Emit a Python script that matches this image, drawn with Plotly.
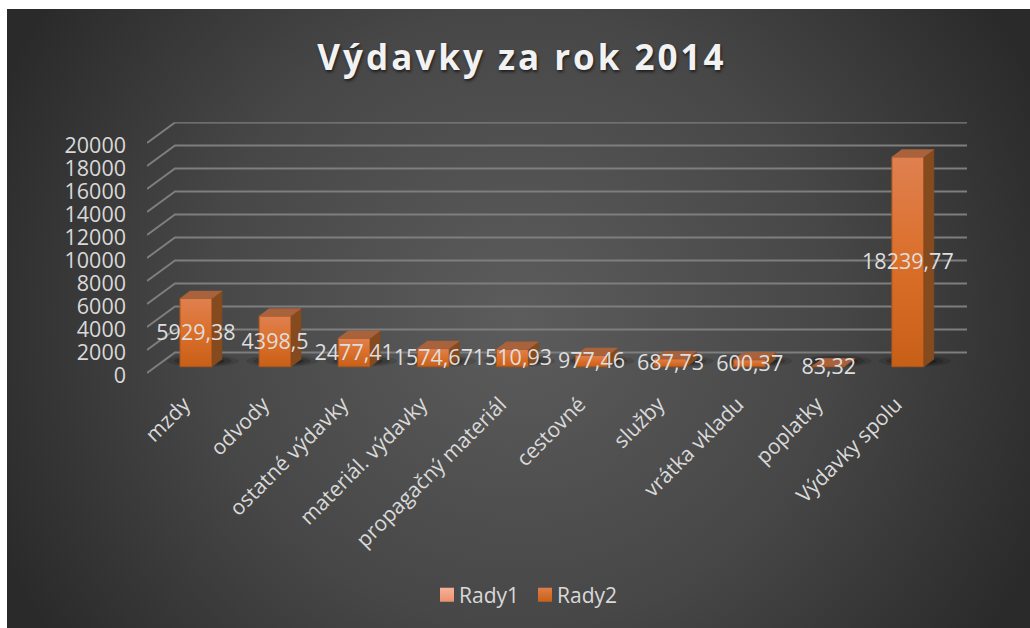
import base64
import plotly.graph_objects as go

CATEGORIES = ["mzdy", "odvody", "ostatné výdavky", "materiál. výdavky", "propagačný materiál",
              "cestovné", "služby", "vrátka vkladu", "poplatky", "Výdavky spolu"]
RADY1 = [None] * 10
RADY2 = [5929.38, 4398.5, 2477.41, 1574.67, 1510.93, 977.46, 687.73, 600.37, 83.32, 18239.77]
LABELS = ["5929,38", "4398,5", "2477,41", "1574,67", "1510,93", "977,46", "687,73", "600,37", "83,32", "18239,77"]
TICKS = list(range(0, 20001, 2000))
TITLE = "Výdavky za rok 2014"

W, H = 1030, 628
# pixel geometry of the pseudo-3D plot
CAT_PX, CAT0_PX = 79.1, 196.0
X_L, X_R = 147.0, 990.0
Y0_PX, PX_PER_UNIT = 373.0, 230.0 / 20000
Y_TOP = 21800
def xunits(px): return px / CAT_PX
def yunits(px): return px / PX_PER_UNIT
BAR_W = 32 / CAT_PX
BASE = yunits(6.3)
DX, DY = xunits(10), yunits(7.5)
WALL_DX, WALL_DY = xunits(28), yunits(20.5)
x_left = (X_L - CAT0_PX) / CAT_PX
x_right = (X_R - CAT0_PX) / CAT_PX
x_wall_end = (967 - CAT0_PX) / CAT_PX
PAD_PX = 6.0
Y_BOT = -yunits(PAD_PX)

TXT = "#D9D9D9"
FONT = "Open Sans"
idx = list(range(len(CATEGORIES)))

fig = go.Figure()

shapes = []
# grid: side wall + back wall
for t in TICKS:
    shapes.append(dict(type="path", xref="x", yref="y", layer="below",
                       path=f"M {x_left},{t} L {x_left + WALL_DX},{t + WALL_DY} L {x_wall_end},{t + WALL_DY}",
                       line=dict(color="#7E7E7E", width=2)))

fig.add_trace(go.Bar(x=idx, y=RADY1, name="Rady1", width=BAR_W, marker=dict(color="#F2A68A", line_width=0)))
fig.add_trace(go.Bar(x=idx, y=RADY2, base=BASE, name="Rady2", width=BAR_W,
                     marker=dict(color="#D2661F", line=dict(color="#A9561F", width=1)), hoverinfo="x+y"))

sx, sy, tx, ty = [], [], [], []
for i, v in zip(idx, RADY2):
    l, r = i - BAR_W / 2, i + BAR_W / 2
    sx += [r, r + DX, r + DX, r, r, None]
    sy += [BASE, BASE + DY, BASE + v + DY, BASE + v, BASE, None]
    tx += [l, l + DX, r + DX, r, l, None]
    ty += [BASE + v, BASE + v + DY, BASE + v + DY, BASE + v, BASE + v, None]
fig.add_trace(go.Scatter(x=sx, y=sy, mode="lines", fill="toself", fillcolor="#854A1E",
                         line=dict(color="#854A1E", width=0.5), showlegend=False, hoverinfo="skip"))
fig.add_trace(go.Scatter(x=tx, y=ty, mode="lines", fill="toself", fillcolor="#A8623C",
                         line=dict(color="#A8623C", width=0.5), showlegend=False, hoverinfo="skip"))

fig.add_trace(go.Scatter(x=idx, y=[BASE + v / 2 - yunits(2) for v in RADY2], mode="text", text=LABELS,
                         textposition="middle center", textfont=dict(family=FONT, size=21.5, color="#DEDEDE"),
                         showlegend=False, hoverinfo="skip"))

# soft floor shadows
for i in idx:
    for grow, alpha in [(1.0, 0.12), (0.8, 0.18), (0.6, 0.25), (0.42, 0.3)]:
        cx, cy = i + xunits(7), yunits(12)
        hw, hh = xunits(36) * grow, yunits(6) * grow
        shapes.append(dict(type="circle", xref="x", yref="y", x0=cx - hw, x1=cx + hw, y0=cy - hh, y1=cy + hh,
                           fillcolor=f"rgba(0,0,0,{alpha})", line_width=0, layer="below"))

svg = f"""<svg xmlns='http://www.w3.org/2000/svg' width='1023' height='619'>
<defs><radialGradient id='g' cx='0.5' cy='0.5' r='0.56' gradientTransform='translate(.5 .5) scale(1 1.6) translate(-.5 -.5)'>
<stop offset='0' stop-color='#5C5C5C'/><stop offset='0.55' stop-color='#474747'/><stop offset='1' stop-color='#2A2A2A'/>
</radialGradient></defs><rect width='1023' height='619' fill='url(#g)'/></svg>"""
bg = "data:image/svg+xml;base64," + base64.b64encode(svg.encode()).decode()

fig.update_layout(
    width=W, height=H, autosize=False, margin=dict(l=0, r=0, t=0, b=0),
    paper_bgcolor="white", plot_bgcolor="rgba(0,0,0,0)", barmode="overlay",
    images=[dict(source=bg, xref="paper", yref="paper", x=7 / W, y=1 - 9 / H, sizex=1023 / W, sizey=619 / H,
                 xanchor="left", yanchor="top", sizing="stretch", layer="below")],
    shapes=shapes,
    title=dict(text=f"<b>{TITLE}</b>", x=522 / W, xanchor="center", y=1 - 58 / H, yanchor="middle",
               font=dict(family=FONT, size=35, color="#F2F2F2", shadow="1px 2px 3px rgba(0,0,0,0.6)")),
    legend=dict(orientation="h", x=526 / W, xanchor="center", y=1 - 595 / H, yanchor="middle",
                font=dict(family=FONT, size=21, color=TXT), bgcolor="rgba(0,0,0,0)", traceorder="normal",
                entrywidth=58, entrywidthmode="pixels"),
    xaxis=dict(domain=[X_L / W, X_R / W], range=[x_left, x_right], tickmode="array",
               tickvals=[i - xunits(12) for i in idx], ticktext=CATEGORIES,
               tickangle=-45, tickfont=dict(family=FONT, size=21, color=TXT), showgrid=False, zeroline=False,
               showline=False, ticks="", ticklabelstandoff=8, anchor="y", automargin=False),
    yaxis=dict(domain=[1 - (Y0_PX + PAD_PX) / H, 1 - (Y0_PX - Y_TOP * PX_PER_UNIT) / H], range=[Y_BOT, Y_TOP],
               tickmode="array", tickvals=[t - yunits(2.5) for t in TICKS], ticktext=[str(t) for t in TICKS],
               tickfont=dict(family=FONT, size=21.5, color=TXT), showgrid=False, zeroline=False, showline=False,
               ticks="", ticklabelstandoff=20, anchor="x", automargin=False),
)

post = """
document.body.style.margin='0';document.documentElement.style.overflow='hidden';
var svgEl=document.querySelector('.main-svg');
var ns='http://www.w3.org/2000/svg';
var defs=svgEl.querySelector('defs');
function grad(id,stops){var g=document.createElementNS(ns,'linearGradient');g.setAttribute('id',id);
 g.setAttribute('x1','0');g.setAttribute('y1','0');g.setAttribute('x2','0');g.setAttribute('y2','1');
 stops.forEach(function(s){var e=document.createElementNS(ns,'stop');e.setAttribute('offset',s[0]);e.setAttribute('stop-color',s[1]);g.appendChild(e);});
 defs.appendChild(g);}
grad('barGrad',[[0,'#DF8050'],[0.5,'#DB6F2A'],[1,'#C85F17']]);
grad('legGrad1',[[0,'#F7B199'],[1,'#E9926F']]);
grad('legGrad2',[[0,'#DE7E4B'],[1,'#CB6015']]);
document.querySelectorAll('.barlayer .point path').forEach(function(p){p.style.fill='url(#barGrad)';});
var lp=document.querySelectorAll('.legend .traces .legendpoints path');
lp.forEach(function(p){p.setAttribute('d','M7,7H-7V-7H7Z');p.style.strokeWidth=0;});
if(lp[0])lp[0].style.fill='url(#legGrad1)';if(lp[1])lp[1].style.fill='url(#legGrad2)';
document.querySelectorAll('.legend .legendtext').forEach(function(t){t.setAttribute('x',parseFloat(t.getAttribute('x'))-8);});
var shifts=[4,-1];
document.querySelectorAll('.legend .traces').forEach(function(g,i){
  var m=/translate\\(([-\\d.]+)[ ,]*([-\\d.]*)\\)/.exec(g.getAttribute('transform')||'');
  if(m){g.setAttribute('transform','translate('+(parseFloat(m[1])+shifts[i])+','+(parseFloat(m[2])||0)+')');}
});
var tt=document.querySelector('.gtitle');if(tt){tt.style.letterSpacing='3px';}
"""
fig.write_html("out.html", post_script=post, config=dict(displayModeBar=False, responsive=False))
